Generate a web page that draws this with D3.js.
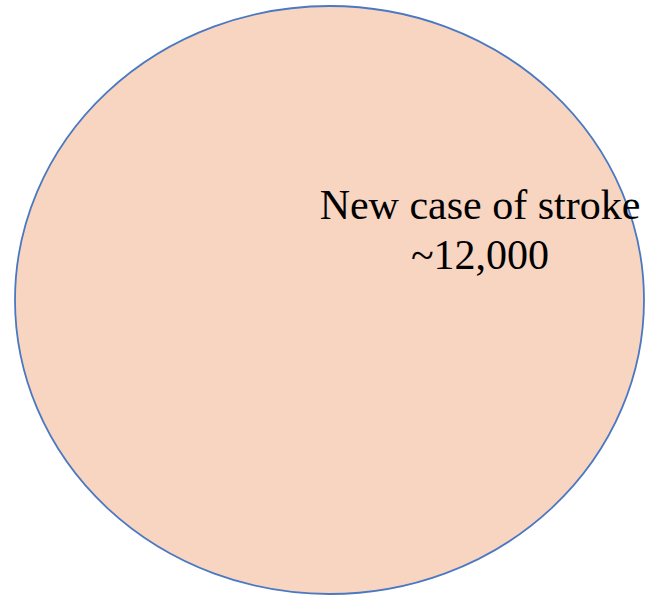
<!DOCTYPE html>
<html>
<head>
<meta charset="utf-8">
<script src="https://cdn.jsdelivr.net/npm/d3@7"></script>
<style>
  body { margin: 0; background: #fff; }
  text { font-family: "Liberation Serif", "Times New Roman", serif; }
</style>
</head>
<body>
<div id="chart"></div>
<script>
// one category, one value
const categories = ["New case of stroke"]
const values = ["~12,000"]

var fullWidth = 647;
var fullHeight = 596;

var svg = d3.select("#chart")
  .append("svg")
    .attr("width", fullWidth)
    .attr("height", fullHeight);

// the circle spans the whole figure
var x = d3.scaleLinear().domain([0, 1]).range([15, 644]);
var y = d3.scaleLinear().domain([0, 1]).range([6, 594]);

svg.selectAll(".bubble").data(categories)
  .enter().append("ellipse")
    .attr("class", "bubble")
    .attr("cx", x(0.5))
    .attr("cy", y(0.5))
    .attr("rx", (x(1) - x(0)) / 2)
    .attr("ry", (y(1) - y(0)) / 2)
    .style("fill", "#f8d5c0")
    .style("stroke", "#4a78c2")
    .style("stroke-width", 1.8);

var label = svg.append("text")
  .attr("text-anchor", "middle")
  .style("font-size", "42px")
  .style("fill", "#000");

label.append("tspan")
  .attr("x", 480)
  .attr("y", 219)
  .text(categories[0]);

label.append("tspan")
  .attr("x", 480)
  .attr("y", 269)
  .text(values[0]);
</script>
</body>
</html>
